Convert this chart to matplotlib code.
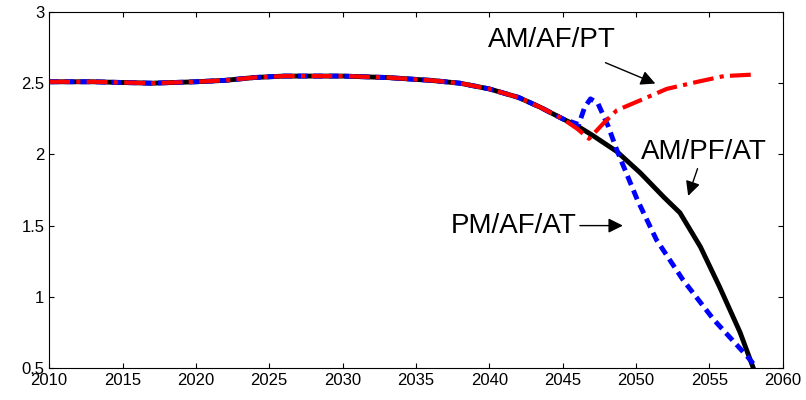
import numpy as np
from matplotlib import pyplot as plt

plt.rcParams['font.family'] = ['Liberation Sans', 'DejaVu Sans']

# common history
years_common = [2010, 2013, 2017, 2020, 2022, 2024, 2026, 2028, 2030, 2033, 2036, 2038, 2040, 2042, 2043.5, 2045]
vals_common = [2.51, 2.51, 2.50, 2.51, 2.52, 2.54, 2.55, 2.55, 2.55, 2.54, 2.52, 2.50, 2.46, 2.40, 2.33, 2.25]

black_x = [2046, 2047.1, 2048.7, 2050.3, 2051.9, 2053, 2054.4, 2055.7, 2057.1, 2058]
black_y = [2.20, 2.13, 2.02, 1.87, 1.70, 1.59, 1.35, 1.07, 0.75, 0.50]

blue_x = [2046.1, 2046.5, 2046.9, 2047.4, 2048.1, 2048.7, 2050.1, 2051.4, 2053.2, 2055.3, 2057.6, 2058]
blue_y = [2.21, 2.33, 2.39, 2.36, 2.20, 2.03, 1.68, 1.40, 1.12, 0.84, 0.58, 0.53]

red_x = [2046, 2046.8, 2047.8, 2048.7, 2050.3, 2052.1, 2054.2, 2056, 2057.9]
red_y = [2.18, 2.11, 2.22, 2.31, 2.38, 2.46, 2.51, 2.55, 2.56]

fig, ax = plt.subplots(figsize=(8.06, 4), dpi=100)
fig.subplots_adjust(left=0.061, right=0.971, top=0.97, bottom=0.08)

ax.plot(years_common + black_x, vals_common + black_y, color='black', linewidth=3.5)
ax.plot(years_common + blue_x, vals_common + blue_y, color='blue', linewidth=3.5, linestyle=(0, (2, 1.2)))
ax.plot(years_common + red_x, vals_common + red_y, color='red', linewidth=3, linestyle=(0, (5, 1.5, 1, 1.5)))

ax.annotate('AM/AF/PT', xy=(2051.5, 2.49), xytext=(2044.3, 2.80), fontsize=20, ha='center', va='center',
            arrowprops=dict(arrowstyle='-|>', color='black', lw=1, shrinkA=12, mutation_scale=22))
ax.annotate('AM/PF/AT', xy=(2053.5, 1.69), xytext=(2054.6, 2.02), fontsize=20, ha='center', va='center',
            arrowprops=dict(arrowstyle='-|>', color='black', lw=1, shrinkA=1, mutation_scale=22))
ax.annotate('PM/AF/AT', xy=(2049.3, 1.50), xytext=(2041.7, 1.5), fontsize=20, ha='center', va='center',
            arrowprops=dict(arrowstyle='-|>', color='black', lw=1, shrinkA=0, mutation_scale=22))

ax.set_xlim(2010, 2060)
ax.set_ylim(0.5, 3)
ax.set_xticks(np.arange(2010, 2061, 5))
ax.set_yticks([0.5, 1, 1.5, 2, 2.5, 3])
ax.set_yticklabels(['0.5', '1', '1.5', '2', '2.5', '3'])
ax.tick_params(labelsize=12, direction='in', top=True, right=True)

fig.savefig('out.png')
